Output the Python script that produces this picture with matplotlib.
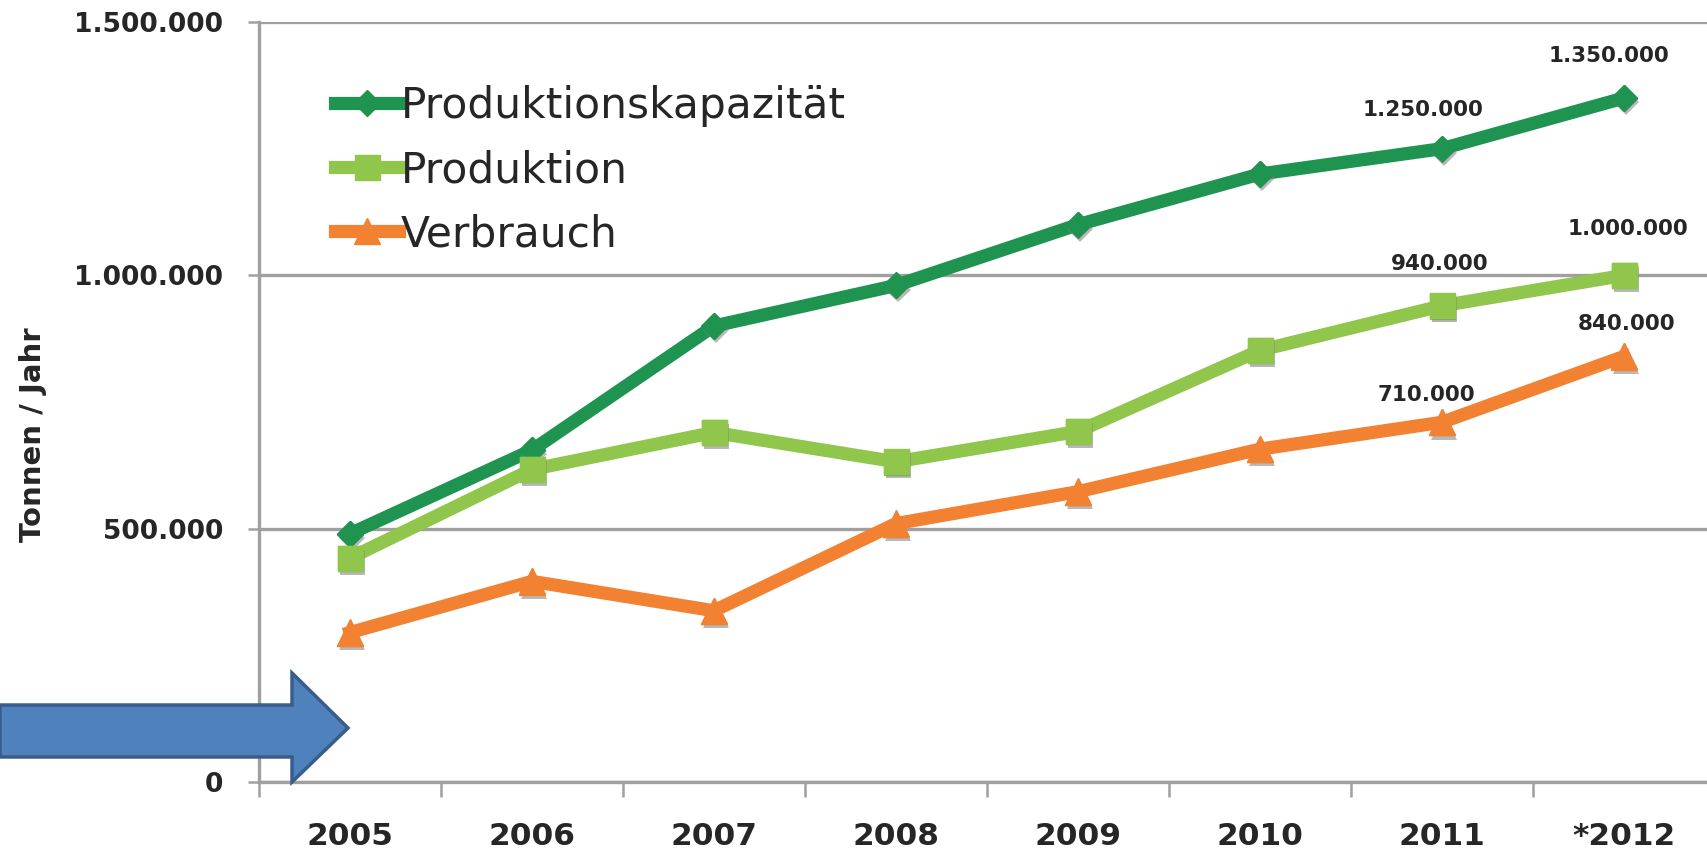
import matplotlib
matplotlib.use('Agg')
import matplotlib.pyplot as plt
import matplotlib.patheffects as pe
from matplotlib.patches import Polygon
from matplotlib.ticker import FixedLocator

# ---- data ----
years = ['2005', '2006', '2007', '2008', '2009', '2010', '2011', '*2012']
kapazitaet = [490000, 655000, 900000, 980000, 1100000, 1200000, 1250000, 1350000]
produktion = [442000, 617000, 690000, 632000, 692000, 852000, 940000, 1000000]
verbrauch = [295000, 396000, 338000, 510000, 573000, 657000, 710000, 840000]
series_names = ['Produktionskapazität', 'Produktion', 'Verbrauch']
y_ticks = [0, 500000, 1000000, 1500000]
y_tick_labels = ['0', '500.000', '1.000.000', '1.500.000']
y_label = 'Tonnen / Jahr'
labelled_idx = [6, 7]

# ---- style ----
colors = ['#1e9450', '#8fc64b', '#f38132']
markers = ['D', 's', '^']
msizes = [13, 18, 19]
grid_c = '#a0a0a0'
text_c = '#262626'
# data-label offsets in points (per series, per labelled point)
label_offsets = [[(-14, 27.5), (-11, 30)],
                 [(-1.5, 30), (2.5, 33)],
                 [(-11, 19.5), (1.5, 23.5)]]


def fmt(v):
    return f'{v:,}'.replace(',', '.')


W, H = 1707, 856
fig = plt.figure(figsize=(W / 100, H / 100), dpi=100)
ax = fig.add_axes([259 / W, 74 / H, 1456 / W, 760 / H])

x = list(range(len(years)))
all_series = [kapazitaet, produktion, verbrauch]
shadow = [pe.SimplePatchShadow(offset=(1.5, -3), shadow_rgbFace='#7f7f7f', alpha=0.55), pe.Normal()]
handles = []
for i, (vals, name) in enumerate(zip(all_series, series_names)):
    ln, = ax.plot(x, vals, color=colors[i], lw=9.5, solid_joinstyle='miter',
                  marker=markers[i], ms=msizes[i], mec=colors[i], mfc=colors[i],
                  label=name, zorder=3 + i)
    handles.append(ln)
    ax.plot(x, vals, ls='none', marker=markers[i], ms=msizes[i], mec=colors[i],
            mfc=colors[i], zorder=3.5 + i, path_effects=shadow)
    for k, j in enumerate(labelled_idx):
        ax.annotate(fmt(vals[j]), (x[j], vals[j]), xytext=label_offsets[i][k],
                    textcoords='offset points', ha='center', va='center',
                    fontsize=15.5, fontweight='bold', color=text_c, zorder=10)

ax.set_xlim(-0.5, len(years) - 0.5)
ax.set_ylim(0, 1500000)
ax.set_yticks(y_ticks)
ax.set_yticklabels(y_tick_labels)
ax.set_xticks(x)
ax.set_xticklabels(years)
ax.xaxis.set_minor_locator(FixedLocator([k + 0.5 for k in range(-1, len(years) - 1)]))

ax.grid(axis='y', color=grid_c, lw=2.4, zorder=0)
ax.set_axisbelow(True)
for s in ['top', 'right']:
    ax.spines[s].set_visible(False)
for s in ['left', 'bottom']:
    ax.spines[s].set_color(grid_c)
    ax.spines[s].set_linewidth(2.4)

ax.tick_params(axis='y', length=8, width=1.8, color=grid_c, pad=18,
               labelsize=19, labelcolor=text_c)
ax.tick_params(axis='x', which='major', length=0, pad=29,
               labelsize=22.5, labelcolor=text_c)
ax.tick_params(axis='x', which='minor', length=11, width=1.8, color=grid_c)
for lab in ax.get_xticklabels() + ax.get_yticklabels():
    lab.set_fontweight('bold')

ax.set_ylabel(y_label, fontsize=21, fontweight='bold', color=text_c, va='center')
ax.yaxis.set_label_coords(-0.155, 0.457)

leg = ax.legend(handles=handles, loc='upper left', frameon=False,
                bbox_to_anchor=(335 / W, 1 - 85 / H), bbox_transform=fig.transFigure,
                fontsize=30.5, handlelength=1.5, handletextpad=0.05,
                labelspacing=0.52, borderpad=0, borderaxespad=0)
for t in leg.get_texts():
    t.set_color(text_c)

# blue arrow decoration (figure pixel coords, y from top)
arrow_px = [(0, 705), (292, 705), (292, 673), (348, 728), (292, 782), (292, 757), (0, 757)]
arrow = Polygon([(px / W, 1 - py / H) for px, py in arrow_px], closed=True,
                transform=fig.transFigure, facecolor='#4f81bd', edgecolor='#385d8a',
                linewidth=2.5, zorder=20)
fig.add_artist(arrow)

fig.savefig('out.png', dpi=100)
